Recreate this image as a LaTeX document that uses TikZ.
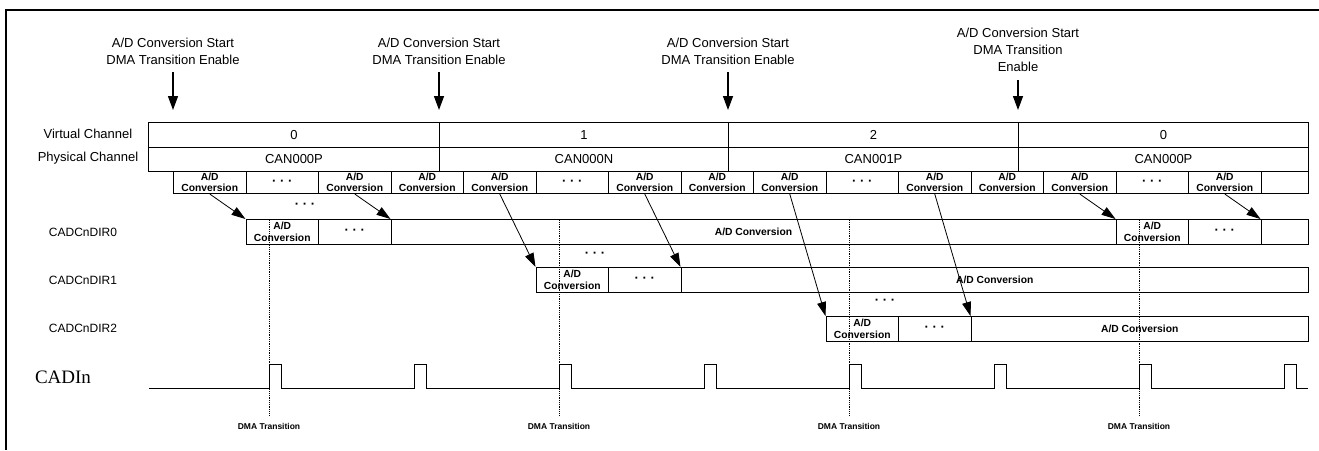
\documentclass[tikz,border=0pt]{standalone}
\usepackage{fontspec}
\setmainfont{Liberation Sans}
\newfontfamily\seriffam{Liberation Serif}
\usepackage{tikz}
\usetikzlibrary{arrows.meta}

\newcommand{\chfont}{\fontsize{13}{17}\selectfont}
\newcommand{\regfont}{\fontsize{12}{14}\selectfont}
\newcommand{\cellfont}{\bfseries\fontsize{10.3}{11.3}\selectfont}
\newcommand{\dmafont}{\bfseries\fontsize{8.5}{10}\selectfont}

\begin{document}
\begin{tikzpicture}[
    x=1pt, y=-1pt,
    chan/.style={rectangle, draw, line width=1pt, minimum height=24.5pt, inner sep=0pt, anchor=north west, font=\chfont},
    adcell/.style={rectangle, draw, line width=1pt, minimum width=72.5pt, minimum height=22pt, inner sep=0pt, anchor=north west, align=center, font=\cellfont},
    dircell/.style={adcell, minimum height=24.5pt},
    skip/.style={font=\bfseries\fontsize{13}{13}\selectfont},
    cue/.style={align=center, inner sep=1pt, font=\chfont},
    arrow/.style={-{Triangle[length=14pt, width=10pt]}, line width=1.3pt, shorten <=7pt},
    feed/.style={-{Triangle[length=14pt, width=9pt]}, line width=0.8pt},
    dotline/.style={densely dotted, line width=0.8pt, shorten <=4pt}
]
    \useasboundingbox (0,0) rectangle (1319,450);
    \draw[line width=2pt] (1319,10) -- (6,10) -- (6,450);

    % Start / enable cues
    \node[cue] (t1) at (173,51) {A/D Conversion Start\\DMA Transition Enable};
    \node[cue] (t2) at (439,51) {A/D Conversion Start\\DMA Transition Enable};
    \node[cue] (t3) at (728,51) {A/D Conversion Start\\DMA Transition Enable};
    \node[cue] (t4) at (1018,50) {A/D Conversion Start\\DMA Transition\\Enable};
    \coordinate (go1) at (173,110);
    \coordinate (go2) at (439,110);
    \coordinate (go3) at (728,110);
    \coordinate (go4) at (1018,110);

    % Row labels
    \node[font=\chfont] (vlab) at (88,134) {Virtual Channel};
    \node[font=\chfont] (plab) at (88,158) {Physical Channel};
    \node[font=\regfont] (r0) at (83,232) {CADCnDIR0};
    \node[font=\regfont] (r1) at (83,280) {CADCnDIR1};
    \node[font=\regfont] (r2) at (83,328) {CADCnDIR2};
    \node[font=\seriffam\fontsize{19}{22}\selectfont] (cadi) at (63,377) {CADIn};

    % Virtual / physical channels
    \node[chan, minimum width=291pt] (vc1) at (148,122) {0};
    \node[chan, minimum width=289pt] (vc2) at (439,122) {1};
    \node[chan, minimum width=290pt] (vc3) at (728,122) {2};
    \node[chan, minimum width=290pt] (vc4) at (1018,122) {0};
    \node[chan, minimum width=291pt] (pc1) at (148,146.5) {CAN000P};
    \node[chan, minimum width=289pt] (pc2) at (439,146.5) {CAN000N};
    \node[chan, minimum width=290pt] (pc3) at (728,146.5) {CAN001P};
    \node[chan, minimum width=290pt] (pc4) at (1018,146.5) {CAN000P};

    % Conversion slots
    \node[adcell] (a1) at (173,171) {A/D\\Conversion};
    \node[adcell, skip] (a2) at (245.5,171) {· · ·};
    \node[adcell] (a3) at (318,171) {A/D\\Conversion};
    \node[adcell] (a4) at (390.5,171) {A/D\\Conversion};
    \node[adcell] (a5) at (463,171) {A/D\\Conversion};
    \node[adcell, skip] (a6) at (535.5,171) {· · ·};
    \node[adcell] (a7) at (608,171) {A/D\\Conversion};
    \node[adcell] (a8) at (680.5,171) {A/D\\Conversion};
    \node[adcell] (a9) at (753,171) {A/D\\Conversion};
    \node[adcell, skip] (a10) at (825.5,171) {· · ·};
    \node[adcell] (a11) at (898,171) {A/D\\Conversion};
    \node[adcell] (a12) at (970.5,171) {A/D\\Conversion};
    \node[adcell] (a13) at (1043,171) {A/D\\Conversion};
    \node[adcell, skip] (a14) at (1115.5,171) {· · ·};
    \node[adcell] (a15) at (1188,171) {A/D\\Conversion};
    \node[adcell, minimum width=47.5pt] (a16) at (1260.5,171) {};

    % CADCnDIR0
    \node[dircell] (d1) at (245.5,219) {A/D\\Conversion};
    \node[dircell, skip] (d2) at (318,219) {· · ·};
    \node[dircell, minimum width=725pt] (d3) at (390.5,219) {A/D Conversion};
    \node[dircell] (d4) at (1115.5,219) {A/D\\Conversion};
    \node[dircell, skip] (d5) at (1188,219) {· · ·};
    \node[dircell, minimum width=47.5pt] (d6) at (1260.5,219) {};

    % CADCnDIR1
    \node[dircell] (e1) at (535.5,267) {A/D\\Conversion};
    \node[dircell, skip] (e2) at (608,267) {· · ·};
    \node[dircell, minimum width=627.5pt] (e3) at (680.5,267) {A/D Conversion};

    % CADCnDIR2
    \node[dircell] (f1) at (825.5,316) {A/D\\Conversion};
    \node[dircell, skip] (f2) at (898,316) {· · ·};
    \node[dircell, minimum width=337.5pt] (f3) at (970.5,316) {A/D Conversion};

    % Gaps between rows
    \node[skip] (g0) at (305,206) {· · ·};
    \node[skip] (g1) at (595,255) {· · ·};
    \node[skip] (g2) at (885,302) {· · ·};

    % DMA transitions
    \node[font=\dmafont] (m1) at (269,426) {DMA Transition};
    \node[font=\dmafont] (m2) at (559,426) {DMA Transition};
    \node[font=\dmafont] (m3) at (849,426) {DMA Transition};
    \node[font=\dmafont] (m4) at (1139,426) {DMA Transition};

    \draw[arrow] (t1.south) -- (go1);
    \draw[arrow] (t2.south) -- (go2);
    \draw[arrow] (t3.south) -- (go3);
    \draw[arrow] (t4.south) -- (go4);
    \draw[feed] (a1.south) -- (d1.north west);
    \draw[feed] (a3.south) -- (d3.north west);
    \draw[feed] (a13.south) -- (d4.north west);
    \draw[feed] (a15.south) -- (d6.north west);
    \draw[feed] (a5.south) -- (e1.north west);
    \draw[feed] (a7.south) -- (e3.north west);
    \draw[feed] (a9.south) -- (f1.north west);
    \draw[feed] (a11.south) -- (f3.north west);
    \draw[dotline] (m1.north) -- (m1.north |- d1.north);
    \draw[dotline] (m2.north) -- (m2.north |- d1.north);
    \draw[dotline] (m3.north) -- (m3.north |- d1.north);
    \draw[dotline] (m4.north) -- (m4.north |- d1.north);

    % CADIn pulses
    \draw[line width=1pt] (149,388) \foreach \p in {269,414,559,704,849,994,1139,1284} { -- (\p,388) -- (\p,364) -- (\p+12,364) -- (\p+12,388) } -- (1308,388);
\end{tikzpicture}
\end{document}
